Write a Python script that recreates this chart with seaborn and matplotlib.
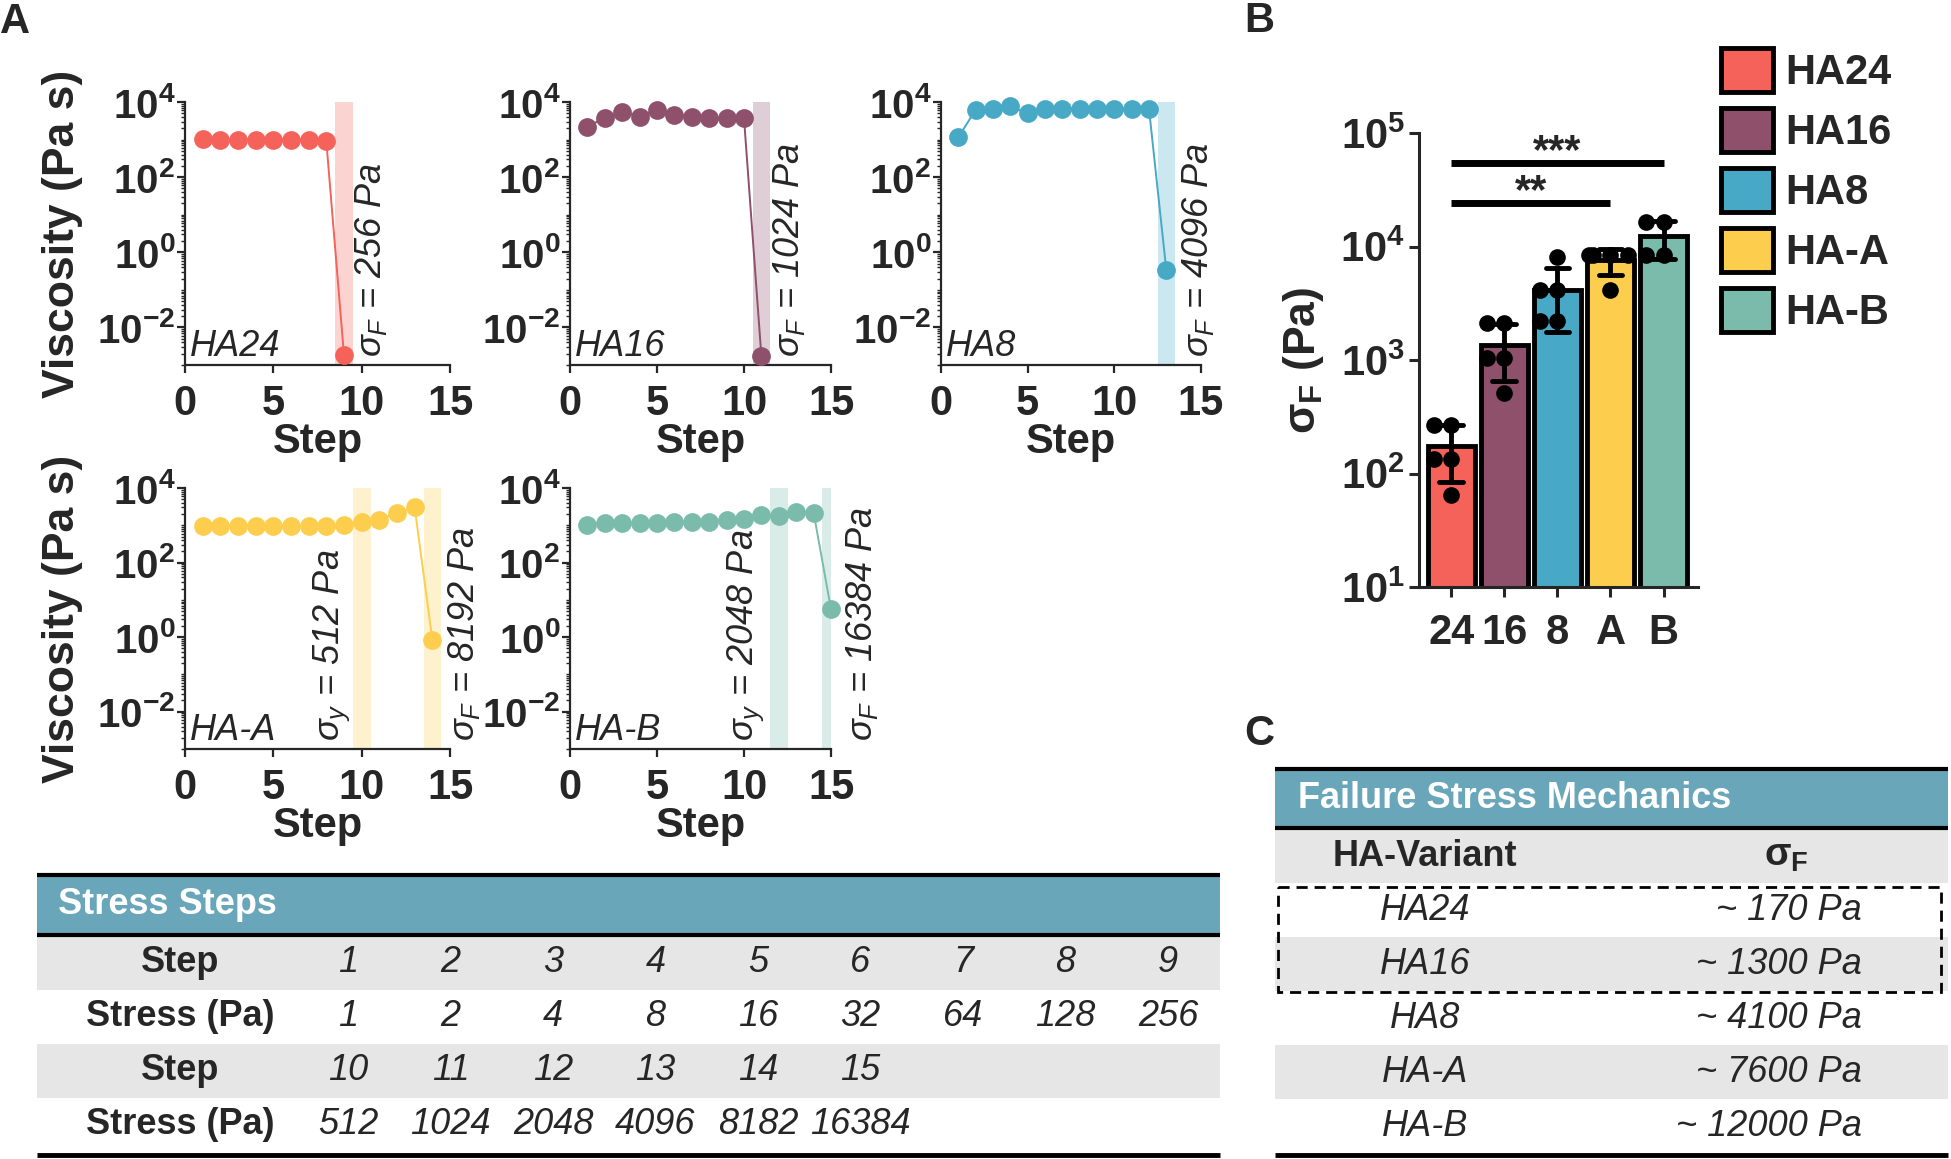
import matplotlib
matplotlib.use("Agg")
import matplotlib.pyplot as plt
import seaborn as sns
import pandas as pd
import numpy as np
from matplotlib.patches import Rectangle, Patch
from matplotlib.ticker import LogLocator, NullLocator, NullFormatter

W, H = 1951, 1159

colors = {"HA24": "#F4625A", "HA16": "#8E506B", "HA8": "#47A9C6",
          "HA-A": "#FDCE4E", "HA-B": "#7ABBAC"}
header_teal = "#6AA6B9"
row_gray = "#E6E6E6"

# Panel A: viscosity (Pa s) at each stress step
visc_ha24 = [1050, 1000, 1000, 1000, 1000, 1000, 980, 900, 0.0018]
visc_ha16 = [2200, 3800, 5400, 4100, 6200, 4400, 4100, 3800, 3800, 3700, 0.0017]
visc_ha8 = [1150, 6200, 6400, 7600, 5000, 6600, 6600, 6600, 6600, 6600, 6600, 6600, 0.33]
visc_haA = [950, 970, 970, 970, 970, 970, 970, 970, 1000, 1200, 1400, 2200, 3000, 0.85]
visc_haB = [1040, 1150, 1150, 1150, 1150, 1200, 1200, 1250, 1380, 1500, 1900, 1800, 2300, 2200, 5.6]

# highlighted steps (yield / failure) and their notes
marked_ha24, notes_ha24 = [9], [r"$\sigma_F$ = 256 Pa"]
marked_ha16, notes_ha16 = [11], [r"$\sigma_F$ = 1024 Pa"]
marked_ha8, notes_ha8 = [13], [r"$\sigma_F$ = 4096 Pa"]
marked_haA, notes_haA = [10, 14], [r"$\sigma_y$ = 512 Pa", r"$\sigma_F$ = 8192 Pa"]
marked_haB, notes_haB = [12, 15], [r"$\sigma_y$ = 2048 Pa", r"$\sigma_F$ = 16384 Pa"]

# Panel B: failure stress replicates (Pa)
groups = ["24", "16", "8", "A", "B"]
legend_names = ["HA24", "HA16", "HA8", "HA-A", "HA-B"]
sigma_24 = [270, 270, 135, 135, 65]
sigma_16 = [2100, 2100, 1050, 1050, 515]
sigma_8 = [8000, 4100, 4100, 2200, 2200]
sigma_A = [8400, 8400, 8400, 8400, 4100]
sigma_B = [16300, 16300, 8400, 8400]

# Stress steps table
steps_1 = [1, 2, 3, 4, 5, 6, 7, 8, 9]
stress_1 = [1, 2, 4, 8, 16, 32, 64, 128, 256]
steps_2 = [10, 11, 12, 13, 14, 15]
stress_2 = [512, 1024, 2048, 4096, 8182, 16384]

# Failure stress table
variants = ["HA24", "HA16", "HA8", "HA-A", "HA-B"]
sigmaF_text = ["~ 170 Pa", "~ 1300 Pa", "~ 4100 Pa", "~ 7600 Pa", "~ 12000 Pa"]

sns.set_style("ticks")
plt.rcParams["font.family"] = ["Liberation Sans", "DejaVu Sans"]
plt.rcParams["mathtext.fontset"] = "custom"
plt.rcParams["mathtext.rm"] = "Liberation Sans"
plt.rcParams["mathtext.it"] = "Liberation Sans:italic"
plt.rcParams["mathtext.bf"] = "Liberation Sans:bold"
plt.rcParams["axes.linewidth"] = 1.6


def px_box(left, top, right, bottom):
    return [left / W, 1 - bottom / H, (right - left) / W, (bottom - top) / H]


def viscosity_panel(ax, name, visc, marked, notes, note_off, ylabel):
    color = colors[name]
    steps = np.arange(1, len(visc) + 1)
    for s in marked:
        ax.axvspan(s - 0.5, s + 0.5, color=color, alpha=0.28, lw=0, zorder=0)
    sns.lineplot(x=steps, y=visc, color=color, lw=1.4, marker="o", markersize=13.5,
                 markeredgewidth=0, ax=ax, zorder=3, clip_on=False)
    ax.set_yscale("log")
    ax.set_ylim(1e-3, 1e4)
    ax.set_xlim(0, 15)
    ax.set_xticks([0, 5, 10, 15])
    ax.set_xticklabels(["0", "5", "10", "15"], fontsize=30, fontweight="bold")
    ax.set_yticks([1e-2, 1, 1e2, 1e4])
    ax.set_yticklabels([r"$\mathbf{10^{-2}}$", r"$\mathbf{10^{0}}$",
                        r"$\mathbf{10^{2}}$", r"$\mathbf{10^{4}}$"], fontsize=29)
    ax.yaxis.set_minor_locator(LogLocator(base=10, subs=np.arange(1.0, 10.0), numticks=30))
    ax.yaxis.set_minor_formatter(NullFormatter())
    ax.tick_params(axis="x", length=6, width=1.6, pad=8)
    ax.tick_params(axis="y", which="major", length=6, width=1.6, pad=1)
    ax.tick_params(axis="y", which="minor", length=3, width=1.0)
    ax.set_xlabel("Step", fontsize=30, fontweight="bold", labelpad=-2)
    if ylabel:
        ax.set_ylabel("Viscosity (Pa s)", fontsize=32, fontweight="bold", labelpad=10)
    else:
        ax.set_ylabel("")
    for txt, s, off in zip(notes, marked, note_off):
        ax.text(s + off, 0.0016, txt, rotation=90, ha="center", va="bottom",
                fontsize=26, style="italic", clip_on=False)
    ax.text(0.02, 0.005, name, transform=ax.transAxes, ha="left", va="bottom",
            fontsize=26, style="italic")
    sns.despine(ax=ax)


fig = plt.figure(figsize=(W / 100, H / 100), dpi=100)

# overlay for tables and panel letters
ov = fig.add_axes([0, 0, 1, 1], zorder=-1)
ov.set_xlim(0, W)
ov.set_ylim(H, 0)
ov.axis("off")

axA1 = fig.add_axes(px_box(185, 102, 450, 365))
axA2 = fig.add_axes(px_box(570, 102, 831, 365))
axA3 = fig.add_axes(px_box(941, 102, 1201, 365))
axA4 = fig.add_axes(px_box(185, 488, 450, 749))
axA5 = fig.add_axes(px_box(570, 488, 831, 749))

viscosity_panel(axA1, "HA24", visc_ha24, marked_ha24, notes_ha24, [1.5], True)
viscosity_panel(axA2, "HA16", visc_ha16, marked_ha16, notes_ha16, [1.6], False)
viscosity_panel(axA3, "HA8", visc_ha8, marked_ha8, notes_ha8, [1.8], False)
viscosity_panel(axA4, "HA-A", visc_haA, marked_haA, notes_haA, [-1.7, 1.8], True)
viscosity_panel(axA5, "HA-B", visc_haB, marked_haB, notes_haB, [-1.9, 1.8], False)

# Panel B
axB = fig.add_axes(px_box(1419, 133, 1698, 587))
sigma_lists = [sigma_24, sigma_16, sigma_8, sigma_A, sigma_B]
df_b = pd.DataFrame({
    "group": np.repeat(groups, [len(v) for v in sigma_lists]),
    "sigma": np.concatenate(sigma_lists),
})
bar_pal = dict(zip(groups, [colors[n] for n in legend_names]))
sns.barplot(data=df_b, x="group", y="sigma", hue="group", palette=bar_pal, order=groups,
            estimator="mean", errorbar="sd", capsize=0.45, width=0.88, linewidth=3.5,
            saturation=1, edgecolor="black", err_kws={"color": "black", "linewidth": 3.5},
            legend=False, ax=axB)
axB.set_yscale("log")
sns.swarmplot(data=df_b, x="group", y="sigma", order=groups, color="black", size=12,
              ax=axB, zorder=4, warn_thresh=1)
axB.set_xlim(-0.61, 4.65)
axB.set_ylim(10, 1e5)
axB.set_yticks([10, 1e2, 1e3, 1e4, 1e5])
axB.set_yticklabels([r"$\mathbf{10^{1}}$", r"$\mathbf{10^{2}}$", r"$\mathbf{10^{3}}$",
                     r"$\mathbf{10^{4}}$", r"$\mathbf{10^{5}}$"], fontsize=30)
axB.yaxis.set_minor_locator(NullLocator())
axB.set_xticks(range(len(groups)))
axB.set_xticklabels(groups, fontsize=30, fontweight="bold")
axB.tick_params(axis="y", length=7, width=2.2, pad=3)
axB.tick_params(axis="x", length=7, width=2.2, pad=12)
for sp in ["left", "bottom"]:
    axB.spines[sp].set_linewidth(2.2)
axB.set_xlabel("")
axB.set_ylabel(r"$\mathbf{\sigma_F}$ (Pa)", fontsize=32, fontweight="bold", labelpad=10)
sns.despine(ax=axB)

# significance bars
axB.plot([0, 4], [5.45e4, 5.45e4], color="black", lw=5, solid_capstyle="butt")
axB.text(2, 5.4e4, "***", ha="center", va="baseline", fontsize=30, fontweight="bold")
axB.plot([0, 3], [2.42e4, 2.42e4], color="black", lw=5, solid_capstyle="butt")
axB.text(1.5, 2.4e4, "**", ha="center", va="baseline", fontsize=30, fontweight="bold")

handles = [Patch(facecolor=colors[n], edgecolor="black", linewidth=3.5, label=n) for n in legend_names]
axB.legend(handles=handles, loc="upper left", bbox_to_anchor=(1721 / W, 1 - 48 / H),
           bbox_transform=fig.transFigure, frameon=False, borderpad=0, borderaxespad=0,
           handlelength=1.25, handleheight=1.25, handletextpad=0.3, labelspacing=0.36,
           prop={"size": 30, "weight": "bold"})

# panel letters
ov.text(15, 22, "A", fontsize=30, fontweight="bold", ha="center", va="center")
ov.text(1259, 21, "B", fontsize=30, fontweight="bold", ha="center", va="center")
ov.text(1259, 734, "C", fontsize=30, fontweight="bold", ha="center", va="center")

# Stress steps table
tl, tr = 37, 1220
ov.add_patch(Rectangle((tl, 876), tr - tl, 58, color=header_teal, lw=0))
ov.text(58, 905, "Stress Steps", color="white", fontsize=26, fontweight="bold", va="center")
row_top = 936
row_h = 54
row_labels = ["Step", "Stress (Pa)", "Step", "Stress (Pa)"]
row_vals = [steps_1, stress_1, steps_2, stress_2]
col_x = np.linspace(348, 1168, 9)
for i, (lab, vals) in enumerate(zip(row_labels, row_vals)):
    y0 = row_top + i * row_h
    ov.add_patch(Rectangle((tl, y0), tr - tl, row_h, color=row_gray if i % 2 == 0 else "white", lw=0))
    yc = y0 + row_h / 2
    ov.text(180, yc, lab, fontsize=26, fontweight="bold", ha="center", va="center")
    for x, v in zip(col_x, vals):
        ov.text(x, yc, str(v), fontsize=26, style="italic", ha="center", va="center")
ov.plot([tl, tr], [875, 875], color="black", lw=3, solid_capstyle="butt")
ov.plot([tl, tr], [935, 935], color="black", lw=3, solid_capstyle="butt")
ov.plot([tl, tr], [1155, 1155], color="black", lw=3.5, solid_capstyle="butt")

# Failure stress table
cl, cr = 1275, 1948
ov.add_patch(Rectangle((cl, 770), cr - cl, 57, color=header_teal, lw=0))
ov.text(1298, 799, "Failure Stress Mechanics", color="white", fontsize=26, fontweight="bold", va="center")
c_top = 829
c_h = 54
ov.add_patch(Rectangle((cl, c_top), cr - cl, c_h, color=row_gray, lw=0))
ov.text(1425, c_top + c_h / 2, "HA-Variant", fontsize=26, fontweight="bold", ha="center", va="center")
ov.text(1786, c_top + c_h / 2, r"$\mathbf{\sigma_F}$", fontsize=28, ha="center", va="center")
for i, (v, s) in enumerate(zip(variants, sigmaF_text)):
    y0 = c_top + (i + 1) * c_h
    ov.add_patch(Rectangle((cl, y0), cr - cl, c_h, color="white" if i % 2 == 0 else row_gray, lw=0))
    yc = y0 + c_h / 2
    ov.text(1425, yc, v, fontsize=26, style="italic", ha="center", va="center")
    ov.text(1862, yc, s, fontsize=26, style="italic", ha="right", va="center")
ov.plot([cl, cr], [769, 769], color="black", lw=3, solid_capstyle="butt")
ov.plot([cl, cr], [828, 828], color="black", lw=3, solid_capstyle="butt")
ov.plot([cl, cr], [1155, 1155], color="black", lw=3.5, solid_capstyle="butt")
ov.add_patch(Rectangle((1278, 887), 1941 - 1278, 105, fill=False, edgecolor="black",
                       lw=2, linestyle=(0, (4, 2.5))))

fig.savefig("out.png", dpi=100)
